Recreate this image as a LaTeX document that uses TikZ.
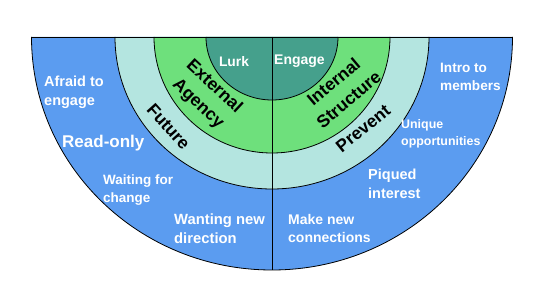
\documentclass[tikz,border=0pt]{standalone}
\usepackage{fontspec}
\setmainfont{Liberation Sans}
\definecolor{outerblue}{RGB}{91,156,240}
\definecolor{lightcyan}{RGB}{180,229,224}
\definecolor{ringgreen}{RGB}{110,224,124}
\definecolor{innerteal}{RGB}{69,160,140}
\begin{document}
\begin{tikzpicture}[x=1pt,y=1pt,
  ring/.style={draw=black,line width=0.8pt},
  wlab/.style={text=white,font=\bfseries,inner sep=0pt,align=left,anchor=west},
  blab/.style={text=black,font=\fontsize{17.5}{23.5}\selectfont\bfseries,inner sep=0pt,align=center},
]
\useasboundingbox (0,0) rectangle (536,286);
\coordinate (c) at (272,249);
\coordinate (bot) at (272,16);
% rings
\fill[outerblue] (31.5,249) arc[start angle=180,end angle=360,x radius=240.5,y radius=233] -- cycle;
\fill[lightcyan] (115,249) arc[start angle=180,end angle=360,x radius=157,y radius=152] -- cycle;
\fill[ringgreen] (154,249) arc[start angle=180,end angle=360,x radius=118,y radius=116] -- cycle;
\fill[innerteal] (206,249) arc[start angle=180,end angle=360,x radius=66,y radius=63] -- cycle;
\draw[ring] (31.5,249) arc[start angle=180,end angle=360,x radius=240.5,y radius=233];
\draw[ring] (115,249) arc[start angle=180,end angle=360,x radius=157,y radius=152];
\draw[ring] (154,249) arc[start angle=180,end angle=360,x radius=118,y radius=116];
\draw[ring] (206,249) arc[start angle=180,end angle=360,x radius=66,y radius=63];
\draw[ring] (31.5,249) -- (512.5,249);
\draw[ring] (c) -- (bot);
% white labels
\node[wlab,font=\fontsize{14.5}{19}\selectfont\bfseries] (afraid) at (44,194) {Afraid to\\engage};
\node[wlab,font=\fontsize{17}{20}\selectfont\bfseries] (readonly) at (62,142.5) {Read-only};
\node[wlab,font=\fontsize{13.5}{18}\selectfont\bfseries] (waiting) at (103,96) {Waiting for\\change};
\node[wlab,font=\fontsize{14.8}{19}\selectfont\bfseries] (wanting) at (174,57) {Wanting new\\direction};
\node[wlab,font=\fontsize{14}{18}\selectfont\bfseries] (makenew) at (288,58) {Make new\\connections};
\node[wlab,font=\fontsize{14.5}{18.5}\selectfont\bfseries] (piqued) at (368,102) {Piqued\\interest};
\node[wlab,font=\fontsize{12.4}{16.5}\selectfont\bfseries] (unique) at (401,152) {Unique\\opportunities};
\node[wlab,font=\fontsize{13.6}{17.5}\selectfont\bfseries] (intro) at (440,209) {Intro to\\members};
\node[wlab,font=\fontsize{13.8}{17}\selectfont\bfseries,anchor=center] (lurk) at (234,224) {Lurk};
\node[wlab,font=\fontsize{14}{17}\selectfont\bfseries] (engage) at (274,225) {Engage};
% black rotated labels
\node[blab,rotate=-43] (extagency) at (206,190.5) {External\\Agency};
\node[blab,rotate=-48] (future) at (168.5,159) {Future};
\node[blab,rotate=40] (intstructure) at (341,195.5) {Internal\\Structure};
\node[blab,rotate=39] (prevent) at (363,157.5) {Prevent};
\end{tikzpicture}
\end{document}
